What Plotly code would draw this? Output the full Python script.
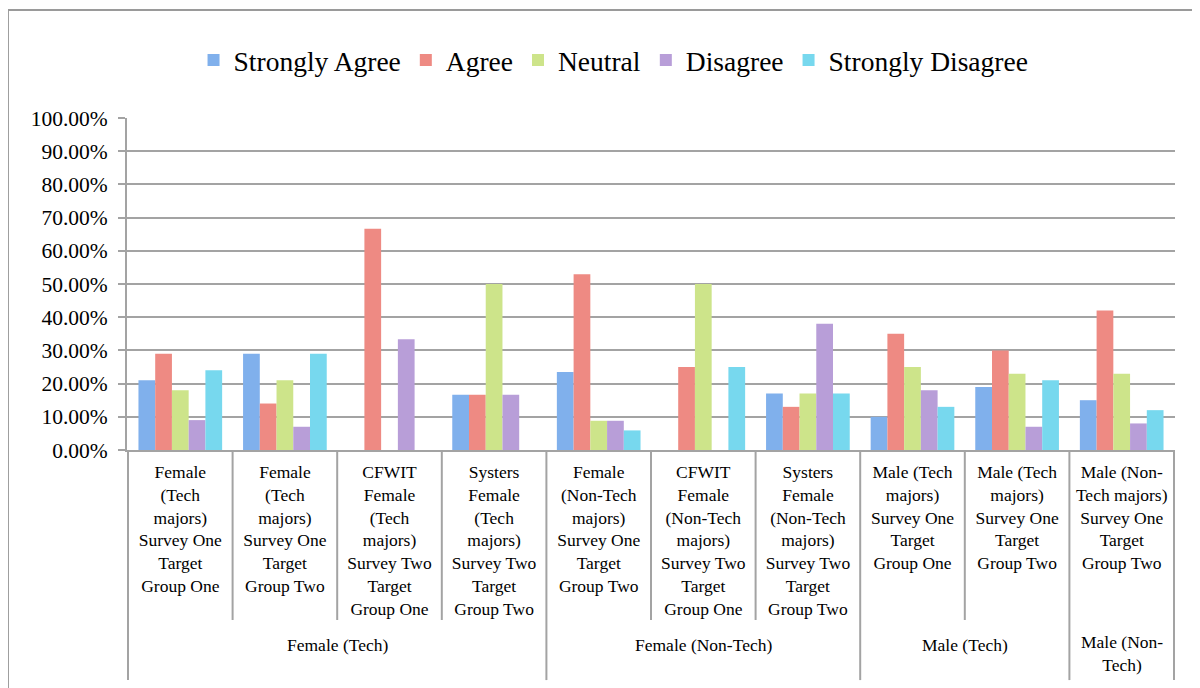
import plotly.graph_objects as go

# inner categories (multi-line labels) and their outer group
categories = [
    "Female<br>(Tech<br>majors)<br>Survey One<br>Target<br>Group One",
    "Female<br>(Tech<br>majors)<br>Survey One<br>Target<br>Group Two",
    "CFWIT<br>Female<br>(Tech<br>majors)<br>Survey Two<br>Target<br>Group One",
    "Systers<br>Female<br>(Tech<br>majors)<br>Survey Two<br>Target<br>Group Two",
    "Female<br>(Non-Tech<br>majors)<br>Survey One<br>Target<br>Group Two",
    "CFWIT<br>Female<br>(Non-Tech<br>majors)<br>Survey Two<br>Target<br>Group One",
    "Systers<br>Female<br>(Non-Tech<br>majors)<br>Survey Two<br>Target<br>Group Two",
    "Male (Tech<br>majors)<br>Survey One<br>Target<br>Group One",
    "Male (Tech<br>majors)<br>Survey One<br>Target<br>Group Two",
    "Male (Non-<br>Tech majors)<br>Survey One<br>Target<br>Group Two",
]
groups = ["Female (Tech)"] * 4 + ["Female (Non-Tech)"] * 3 + ["Male (Tech)"] * 2 + ["Male (Non-Tech)"]
group_labels = {"Male (Non-Tech)": "Male (Non-<br>Tech)"}

# percentages per response
strongly_agree = [21, 29, 0, 16.67, 23.5, 0, 17, 10, 19, 15]
agree = [29, 14, 66.67, 16.67, 52.9, 25, 13, 35, 30, 42]
neutral = [18, 21, 0, 50, 8.8, 50, 17, 25, 23, 23]
disagree = [9, 7, 33.33, 16.67, 8.8, 0, 38, 18, 7, 8]
strongly_disagree = [24, 29, 0, 0, 5.9, 25, 17, 13, 21, 12]

series = [
    ("Strongly Agree", strongly_agree, "#80B0EC"),
    ("Agree", agree, "#EE8A83"),
    ("Neutral", neutral, "#CDE48A"),
    ("Disagree", disagree, "#B89ED8"),
    ("Strongly Disagree", strongly_disagree, "#77D8EE"),
]

FONT = "Liberation Serif"
GRID = "#a3a3a3"

fig = go.Figure()
for name, vals, color in series:
    fig.add_trace(go.Bar(x=categories, y=vals, name=name, marker_color=color, marker_line_width=0))

# page body adds an 8px offset, so the figure is sized to fit what's left
fig.update_layout(
    width=1192, height=680,
    margin=dict(l=119, r=25, t=110, b=238),
    plot_bgcolor="white", paper_bgcolor="white",
    barmode="group", bargap=0.2, bargroupgap=0,
    font=dict(family=FONT, color="black"),
    legend=dict(
        orientation="h", xref="container", yref="container",
        x=0.508, y=0.9235, xanchor="center", yanchor="middle",
        font=dict(size=27.5, family=FONT), itemwidth=30,
    ),
)
fig.update_yaxes(
    range=[0, 100], dtick=10, tickformat=".2f", ticksuffix="%",
    showgrid=True, gridcolor=GRID, gridwidth=2,
    showline=True, linecolor=GRID, linewidth=2,
    ticks="outside", ticklen=7, tickcolor=GRID, tickwidth=2,
    zeroline=False, tickfont=dict(size=21.5), ticklabelstandoff=6,
)
fig.update_xaxes(
    showline=True, linecolor=GRID, linewidth=2, ticks="",
    tickangle=0, tickfont=dict(size=17.5), ticklabelstandoff=5,
)

# axis table: divider lines between categories and groups
short_y = -0.512
long_y = -0.693
n = len(categories)
bounds = [-0.5] + [i - 0.5 for i in range(1, n) if groups[i] != groups[i - 1]] + [n - 0.5]
for i in range(1, n):
    if groups[i] == groups[i - 1]:
        fig.add_shape(type="line", xref="x", yref="paper", x0=i - 0.5, x1=i - 0.5,
                      y0=0, y1=short_y, line=dict(color=GRID, width=2))
for b in bounds:
    fig.add_shape(type="line", xref="x", yref="paper", x0=b, x1=b,
                  y0=0, y1=long_y, line=dict(color=GRID, width=2))

# outer group labels
for a, b in zip(bounds[:-1], bounds[1:]):
    g = groups[int(a + 0.5)]
    fig.add_annotation(x=(a + b) / 2, xref="x", y=-0.614 if g in group_labels else -0.587,
                       yref="paper", text=group_labels.get(g, g), showarrow=False,
                       yanchor="middle", font=dict(size=17.5, family=FONT))

# chart frame
fig.add_shape(type="rect", xref="paper", yref="paper", x0=-0.1136, x1=1.2, y0=-0.8, y1=1.3253,
              line=dict(color="#9a9a9a", width=2), layer="below")

fig.write_html("out.html")
